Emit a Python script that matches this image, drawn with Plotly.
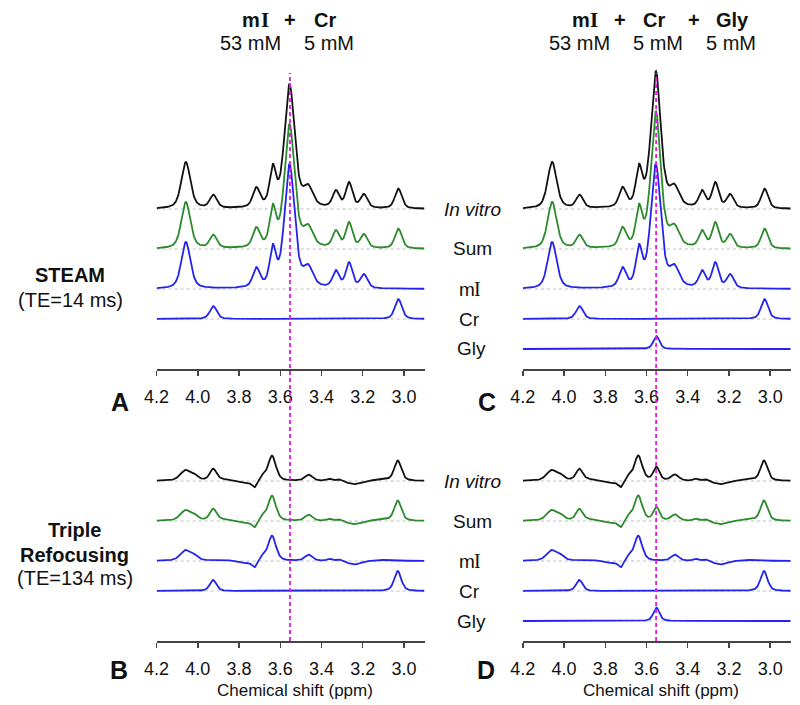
import numpy as np
import plotly.graph_objects as go

W, H = 800, 705

# ---------------- data ----------------
tick_vals = [4.2, 4.0, 3.8, 3.6, 3.4, 3.2, 3.0]
tick_text = ["4.2", "4.0", "3.8", "3.6", "3.4", "3.2", "3.0"]
ppm_start, ppm_end = 4.2, 2.9
ref_line_ppm = 3.553

row_names = ["<i>In vitro</i>", "Sum", "mI", "Cr", "Gly"]

# STEAM (TE=14 ms): peak centre (ppm), height at centre, FWHM (ppm)
steam_mI_ppm = [4.058, 3.716, 3.636, 3.555, 3.465, 3.330, 3.266, 3.194]
steam_mI_hgt = [47, 22, 45, 125, 25, 19, 27, 15]
steam_mI_fw = [0.052, 0.04, 0.036, 0.058, 0.055, 0.038, 0.038, 0.04]

steam_Cr_ppm = [3.925, 3.027]
steam_Cr_hgt = [13, 20]
steam_Cr_fw = [0.04, 0.04]

steam_Gly_ppm = [3.552]
steam_Gly_hgt = [13]
steam_Gly_fw = [0.035]

# Triple refocusing (TE=134 ms)
tr_mI_ppm = [4.060, 4.015, 3.880, 3.780, 3.725, 3.685, 3.640, 3.462, 3.362, 3.315, 3.240, 3.100]
tr_mI_hgt = [11, 7, 1.5, -2, -6.3, 7, 25.3, 6.3, 2.3, 1.7, -3.3, 1.0]
tr_mI_fw = [0.06, 0.04, 0.12, 0.10, 0.03, 0.035, 0.045, 0.045, 0.03, 0.03, 0.08, 0.15]

tr_Cr_ppm = [3.926, 3.030]
tr_Cr_hgt = [11, 20]
tr_Cr_fw = [0.038, 0.04]

tr_Gly_ppm = [3.552]
tr_Gly_hgt = [13.5]
tr_Gly_fw = [0.035]

# ---------------- spectrum synthesis from peak lists ----------------
ppm = np.linspace(ppm_start, ppm_end, 651)


def pv(x, c, fw, eta=0.5):
    d = (x - c) / (fw / 2.0)
    return eta / (1 + d * d) + (1 - eta) * np.exp(-np.log(2) * d * d)


def spectrum(centres, heights, widths):
    c = np.asarray(centres, float)
    h = np.asarray(heights, float)
    w = np.asarray(widths, float)
    M = pv(c[:, None], c[None, :], w[None, :])
    amp = np.linalg.solve(M, h)
    y = np.zeros_like(ppm)
    for a, ci, wi in zip(amp, c, w):
        y += a * pv(ppm, ci, wi)
    return y


st_mI = spectrum(steam_mI_ppm, steam_mI_hgt, steam_mI_fw)
st_Cr = spectrum(steam_Cr_ppm, steam_Cr_hgt, steam_Cr_fw)
st_Gly = spectrum(steam_Gly_ppm, steam_Gly_hgt, steam_Gly_fw)
tr_mI = spectrum(tr_mI_ppm, tr_mI_hgt, tr_mI_fw)
tr_Cr = spectrum(tr_Cr_ppm, tr_Cr_hgt, tr_Cr_fw)
tr_Gly = spectrum(tr_Gly_ppm, tr_Gly_hgt, tr_Gly_fw)

# ---------------- layout constants ----------------
BLACK, GREEN, BLUE = "#111111", "#2b8a2b", "#2323ee"
offsets = [160, 120, 80, 50, 20]
FONT = "Arial, Liberation Sans, sans-serif"
SERIF = "Liberation Serif, Times New Roman, serif"

panels = {
    "A": (1, [st_mI, st_Cr]),
    "C": (2, [st_mI, st_Cr, st_Gly]),
    "B": (3, [tr_mI, tr_Cr]),
    "D": (4, [tr_mI, tr_Cr, tr_Gly]),
}

fig = go.Figure()
shapes = []
for name, (ax, comps) in panels.items():
    xa = "x" if ax == 1 else f"x{ax}"
    ya = "y" if ax == 1 else f"y{ax}"
    total = np.sum(comps, axis=0)
    traces = [(total, BLACK), (total, GREEN)] + [(c, BLUE) for c in comps]
    for i, (yv, col) in enumerate(traces):
        off = offsets[i]
        shapes.append(dict(type="line", xref=xa, yref=ya, x0=ppm_start, x1=ppm_end,
                           y0=off, y1=off, layer="below",
                           line=dict(color="#bdbdbd", width=1, dash="dot")))
        fig.add_trace(go.Scatter(x=ppm, y=yv + off, mode="lines", xaxis=xa, yaxis=ya,
                                 line=dict(color=col, width=1.8), hoverinfo="skip",
                                 showlegend=False))
    shapes.append(dict(type="line", xref=xa, yref="paper", x0=ref_line_ppm, x1=ref_line_ppm,
                       y0=1 - 641 / H, y1=1 - 73 / H, layer="above",
                       line=dict(color="#e020e0", width=1.5, dash="4px,3px")))

left_dom = [146 / W, 418.3 / W]
right_dom = [518.3 / W, 790.6 / W]
top_dom = [1 - 369 / H, 1 - 60 / H]
bot_dom = [1 - 641 / H, 1 - 420 / H]

xcommon = dict(range=[ppm_start, ppm_end], showline=True, linecolor="#444", linewidth=1.5,
               ticks="outside", ticklen=5, tickwidth=1.5, tickcolor="#444",
               tickvals=tick_vals, ticktext=tick_text, showgrid=False, zeroline=False,
               tickfont=dict(family=FONT, size=18, color="#111"), ticklabelstandoff=6)
ycommon = dict(visible=False, showgrid=False, zeroline=False)

fig.update_layout(
    xaxis=dict(domain=left_dom, anchor="y", **xcommon),
    yaxis=dict(domain=top_dom, anchor="x", range=[0, 309], **ycommon),
    xaxis2=dict(domain=right_dom, anchor="y2", **xcommon),
    yaxis2=dict(domain=top_dom, anchor="x2", range=[0, 309], **ycommon),
    xaxis3=dict(domain=left_dom, anchor="y3", **xcommon),
    yaxis3=dict(domain=bot_dom, anchor="x3", range=[0, 221], **ycommon),
    xaxis4=dict(domain=right_dom, anchor="y4", **xcommon),
    yaxis4=dict(domain=bot_dom, anchor="x4", range=[0, 221], **ycommon),
)

ann = []


def txt(x, y, s, size, bold=False, family=FONT):
    if bold:
        s = f"<b>{s}</b>"
    ann.append(dict(x=x / W, y=1 - y / H, xref="paper", yref="paper", text=s, showarrow=False,
                    xanchor="center", yanchor="middle",
                    font=dict(family=family, size=size, color="#111")))


def mI_label(x_m, x_i, y, size, bold):
    txt(x_m, y, "m", size, bold)
    txt(x_i, y, "I", size + 1, bold, family=SERIF)


# column headers
mI_label(242, 256, 20, 20, True)
for x, s in [(282, "+"), (317, "Cr")]:
    txt(x, 20, s, 20, bold=True)
for x, s in [(241, "53 mM"), (321, "5 mM")]:
    txt(x, 43, s, 20)
mI_label(577, 591, 20, 20, True)
for x, s in [(617, "+"), (652, "Cr"), (692, "+"), (731, "Gly")]:
    txt(x, 20, s, 20, bold=True)
for x, s in [(576, "53 mM"), (656, "5 mM"), (730, "5 mM")]:
    txt(x, 43, s, 20)

# row group labels
txt(58, 275, "STEAM", 20, bold=True)
txt(58, 300, "(TE=14 ms)", 20)
txt(63, 530, "Triple", 20, bold=True)
txt(63, 555, "Refocusing", 20, bold=True)
txt(63, 578, "(TE=134 ms)", 20)

# panel letters
txt(109, 402, "A", 25, bold=True)
txt(482, 402, "C", 25, bold=True)
txt(108, 670, "B", 25, bold=True)
txt(481, 670, "D", 25, bold=True)

# x axis titles
txt(287, 690, "Chemical shift (ppm)", 17)
txt(659, 690, "Chemical shift (ppm)", 17)

# series labels
for base_y in (369, 641):
    for name, off, dx in zip(row_names, offsets, [467, 467, 465, 464, 466]):
        y = base_y - off
        if name == "mI":
            mI_label(461, 472, y, 19, False)
        else:
            txt(dx, y, name, 19)

fig.update_layout(width=W, height=H, margin=dict(l=0, r=0, t=0, b=0),
                  paper_bgcolor="white", plot_bgcolor="white",
                  shapes=shapes, annotations=ann, showlegend=False)

fig.write_html("out.html", config={"displayModeBar": False, "staticPlot": True},
               post_script="document.body.style.margin='0';document.body.style.padding='0';")
